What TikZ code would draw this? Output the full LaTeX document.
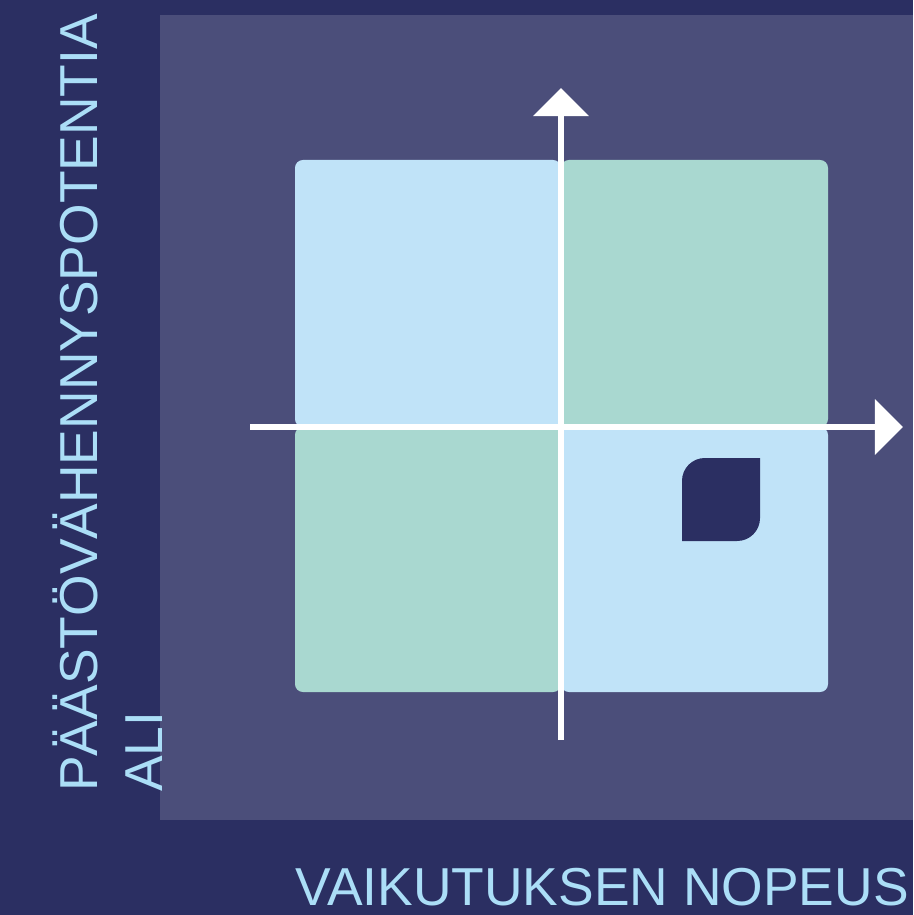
\documentclass[tikz,border=0pt]{standalone}
\usepackage{fontspec}
\setmainfont{Liberation Sans}
\usetikzlibrary{arrows.meta}
\definecolor{navy}{HTML}{2B2F62}
\definecolor{panel}{HTML}{4B4E7A}
\definecolor{skyq}{HTML}{C0E3F8}
\definecolor{mintq}{HTML}{A9D8D0}
\definecolor{labelblue}{HTML}{ABDEF7}

\begin{document}
\begin{tikzpicture}[x=0.02cm,y=-0.02cm,
  quad/.style={rounded corners=4.5pt},
  axis/.style={white,line width=3.4pt,-{Triangle[width=31pt,length=16pt]}},
  lbl/.style={text=labelblue,font=\fontsize{30.4}{36}\selectfont,inner sep=0pt}]
  \fill[navy] (0,0) rectangle (913,915);
  \fill[panel] (160,15) rectangle (913,820);
  % quadrants
  \fill[skyq,quad] (295,160) rectangle (561,427);
  \fill[mintq,quad] (561,160) rectangle (828,427);
  \fill[mintq,quad] (295,427) rectangle (561,692);
  \fill[skyq,quad] (561,427) rectangle (828,692);
  % leaf marker
  \fill[navy] (682,541) [rounded corners=13pt] -- (682,458) [sharp corners] -- (760,458)
    [rounded corners=13pt] -- (760,541) [sharp corners] -- cycle;
  % axes
  \coordinate (xstart) at (250,427);
  \coordinate (xend) at (903,427);
  \coordinate (ystart) at (561,740);
  \coordinate (yend) at (561,88);
  \draw[axis] (ystart) -- (yend);
  \draw[axis] (xstart) -- (xend);
  % labels
  \node[lbl,rotate=90,anchor=base west] (ylab) at (97,792) {PÄÄSTÖVÄHENNYSPOTENTIA};
  \node[lbl,rotate=90,anchor=base west] (ylab2) at (162,792) {ALI};
  \node[lbl,anchor=base west] (xlab) at (295,905) {VAIKUTUKSEN NOPEUS};
\end{tikzpicture}
\end{document}
